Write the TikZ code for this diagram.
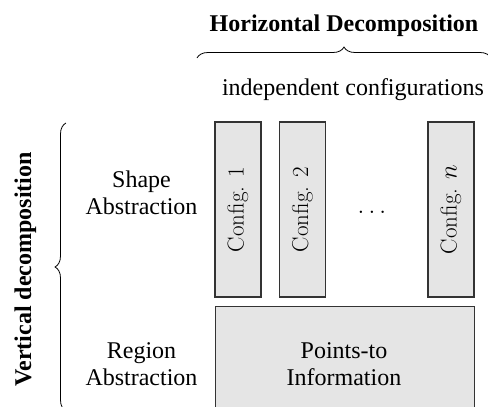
\documentclass[tikz,border=0pt]{standalone}
\usepackage{fontspec}
\setmainfont{Liberation Serif}
\newfontfamily\lmrfam{Latin Modern Roman}
\usetikzlibrary{decorations.pathreplacing}
\begin{document}
\begin{tikzpicture}[x=1pt,y=-1pt,
  box/.style={draw=black!80, line width=1.1pt, fill=black!10, inner sep=0pt},
  tlabel/.style={font=\fontsize{24}{27.5}\selectfont, align=center, inner sep=0pt},
  blabel/.style={font=\bfseries\fontsize{24}{27}\selectfont, inner sep=0pt},
  cfg/.style={font=\lmrfam\fontsize{23}{26}\selectfont, rotate=90, inner sep=0pt},
  brc/.style={decorate, decoration={brace, amplitude=11pt}, line width=0.8pt}]
\useasboundingbox (0,0) rectangle (488,407);
\clip (0,0) rectangle (488,407);
% config boxes
\node[box, minimum width=46pt, minimum height=175pt] (c1) at (238,209.5) {};
\node[box, minimum width=46pt, minimum height=175pt] (c2) at (302.5,209.5) {};
\node[box, minimum width=46pt, minimum height=175pt] (cn) at (451,209.5) {};
\node[cfg] (t1) at (c1.center) {Config. 1};
\node[cfg] (t2) at (c2.center) {Config. 2};
\node[cfg] (tn) at (cn.center) {Config. $n$};
\node[font=\fontsize{23}{26}\selectfont, inner sep=0pt] (dots) at (372,212) {$\dots$};
% bottom box
\node[box, minimum width=259pt, minimum height=120pt, anchor=north west] (pt) at (215,306) {};
\node[tlabel] (ptt) at (344,364) {Points-to\\Information};
% left labels
\node[tlabel] (sa) at (141.5,193) {Shape\\Abstraction};
\node[tlabel] (ra) at (141.5,364) {Region\\Abstraction};
% top labels
\node[blabel, anchor=base] (hd) at (344,31) {Horizontal Decomposition};
\node[tlabel, anchor=base] (ic) at (353,95) {independent configurations};
\node[blabel, anchor=base, rotate=90] (vd) at (31,269.5) {Vertical decomposition};
% braces
\coordinate (hb1) at (197,58);
\coordinate (hb2) at (491,58);
\draw[brc] (hb1) -- (hb2);
\coordinate (vb1) at (66,411);
\coordinate (vb2) at (66,123);
\draw[brc] (vb1) -- (vb2);
\end{tikzpicture}
\end{document}
